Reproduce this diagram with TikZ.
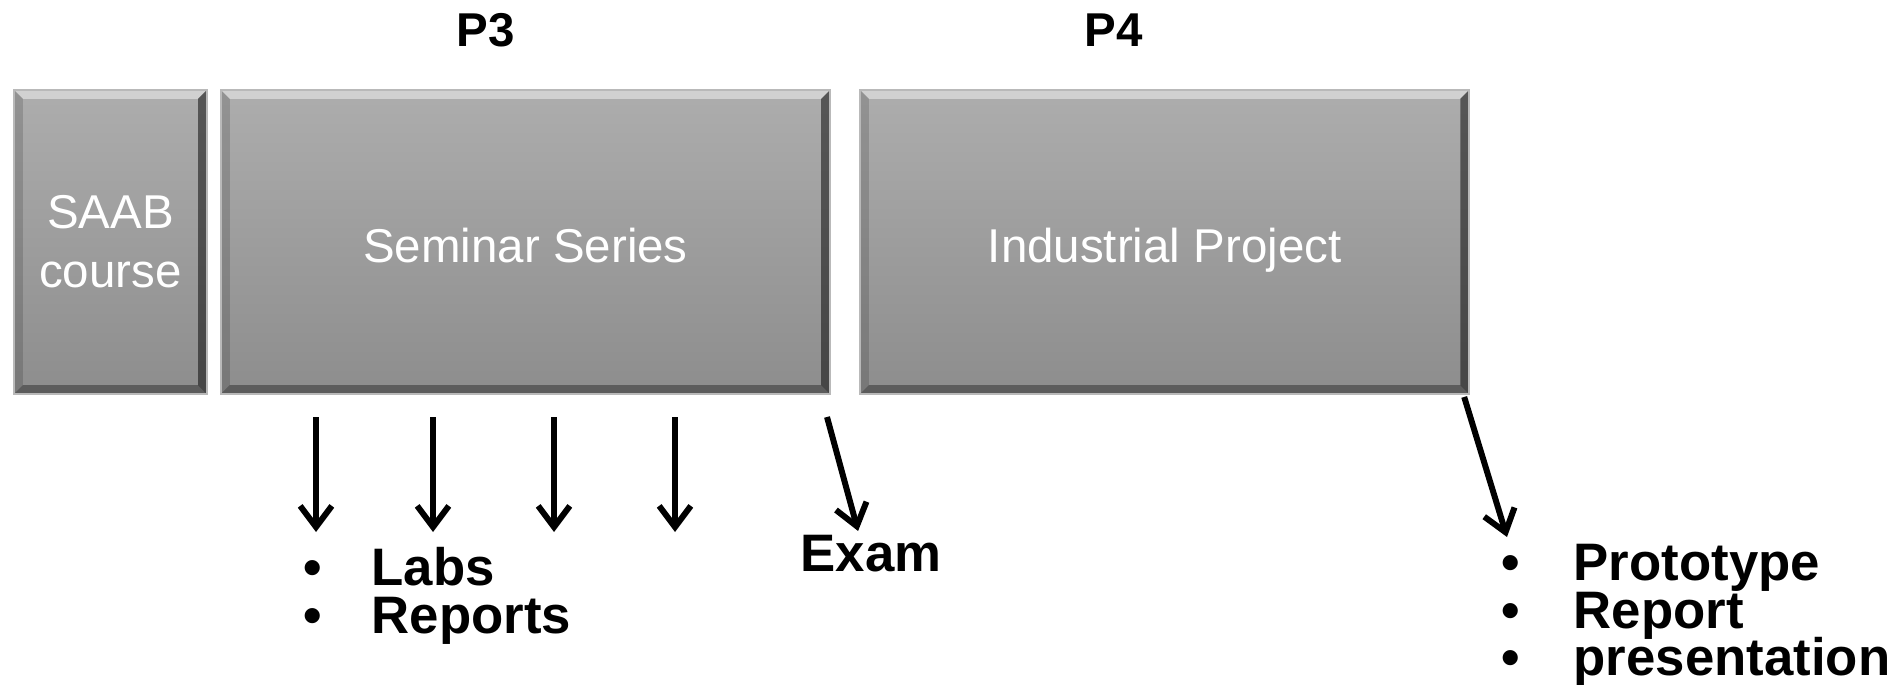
\documentclass[tikz,border=0pt]{standalone}
\usepackage{fontspec}
\setmainfont{Liberation Sans}
\usetikzlibrary{arrows.meta,positioning}

\definecolor{phasetop}{HTML}{ADADAD}
\definecolor{phasebot}{HTML}{8D8D8D}
\newcommand\ppbb{path picture bounding box}

\tikzset{
  phase/.style={draw=gray!55, line width=0.5pt, top color=phasetop, bottom color=phasebot,
    minimum height=3.04cm, inner sep=0pt, text=white, align=center,
    font=\fontsize{13.5}{16.8}\selectfont,
    path picture={
      \fill[white,opacity=.45] (\ppbb.north west) -- (\ppbb.north east) -- ([shift={(-9,9)}]\ppbb.north east) -- ([shift={(9,9)}]\ppbb.north west) -- cycle;
      \fill[black,opacity=.5] (\ppbb.north east) -- (\ppbb.south east) -- ([shift={(-9,-9)}]\ppbb.south east) -- ([shift={(-9,9)}]\ppbb.north east) -- cycle;
      \fill[black,opacity=.35] (\ppbb.south east) -- (\ppbb.south west) -- ([shift={(9,-9)}]\ppbb.south west) -- ([shift={(-9,-9)}]\ppbb.south east) -- cycle;
      \fill[black,opacity=.15] (\ppbb.south west) -- (\ppbb.north west) -- ([shift={(9,9)}]\ppbb.north west) -- ([shift={(9,-9)}]\ppbb.south west) -- cycle;
    }},
  oneline/.style={text height=0.5cm, text depth=0.1cm},
  hdr/.style={inner sep=0pt, font=\bfseries\fontsize{13.5}{16}\selectfont},
  outtxt/.style={inner sep=0pt, font=\bfseries\fontsize{15}{13.5}\selectfont},
  bul/.style={inner sep=0pt, font=\bfseries\fontsize{15}{13.5}\selectfont},
  deliv/.style={line width=1.7pt, -{Straight Barb[length=6pt,width=9pt]}}
}

\begin{document}
\begin{tikzpicture}[x=0.01cm, y=-0.01cm]
  \useasboundingbox (0,0) rectangle (1903,685);

  % periods
  \node[phase, minimum width=1.93cm] (saab) at (110.5,242) {SAAB\\course};
  \node[phase, oneline, minimum width=6.09cm, right=0.12cm of saab] (seminar) {Seminar Series};
  \node[phase, oneline, minimum width=6.09cm, right=0.28cm of seminar] (industrial) {Industrial Project};

  \node[hdr, anchor=base] (p3) at (486,47) {P3};
  \node[hdr, anchor=base] (p4) at (1114,47) {P4};

  % seminar deliverables
  \foreach \x [count=\i] in {316,433,554,675} {
    \coordinate (ls\i) at (\x,417);
    \coordinate (le\i) at (\x,532);
    \draw[deliv] (ls\i) -- (le\i);
  }
  \foreach \t/\y [count=\i] in {Labs/585,Reports/633} {
    \node[bul, anchor=base west] (lb\i) at (303,\y) {•};
    \node[outtxt, anchor=base west] (li\i) at (371,\y) {\t};
  }

  % exam
  \node[outtxt, anchor=base west] (exam) at (800,571) {Exam};
  \coordinate (examfrom) at (827,417);
  \draw[deliv] (examfrom) -- ([shift={(-13,-3)}]exam.north);

  % project deliverables
  \foreach \t/\y [count=\i] in {Prototype/580,Report/628,presentation/675} {
    \node[bul, anchor=base west] (pb\i) at (1501,\y) {•};
    \node[outtxt, anchor=base west] (pi\i) at (1573,\y) {\t};
  }
  \coordinate (projto) at (1507,537);
  \draw[deliv] ([shift={(-6,2)}]industrial.south east) -- (projto);
\end{tikzpicture}
\end{document}
